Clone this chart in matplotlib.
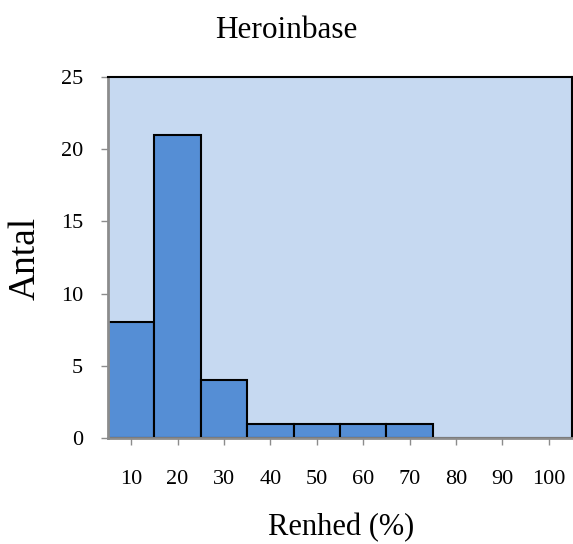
import matplotlib
matplotlib.use("Agg")
import matplotlib.pyplot as plt

categories = ["10", "20", "30", "40", "50", "60", "70", "80", "90", "100"]
counts = [8, 21, 4, 1, 1, 1, 1, 0, 0, 0]
yticks = [0, 5, 10, 15, 20, 25]

plt.rcParams["font.family"] = ["Liberation Serif", "DejaVu Serif"]

W, H = 573, 544
fig = plt.figure(figsize=(W / 100, H / 100), dpi=100)
ax = fig.add_axes([108 / W, 106 / H, 464 / W, 361 / H])
ax.set_facecolor("#C6D9F1")

x = list(range(len(categories)))
ax.bar(x, counts, width=1.0, color="#558ED5", edgecolor="black", linewidth=1.5)

ax.set_xlim(-0.5, len(categories) - 0.5)
ax.set_ylim(0, 25)
ax.set_xticks(x)
ax.set_xticklabels(categories, fontsize=16)
ax.set_yticks(yticks)
ax.set_yticklabels([str(v) for v in yticks], fontsize=16)

for side in ["left", "bottom"]:
    ax.spines[side].set_color("#8C8C8C")
    ax.spines[side].set_linewidth(2)
for side in ["top", "right"]:
    ax.spines[side].set_color("black")
    ax.spines[side].set_linewidth(1.5)

ax.tick_params(axis="both", direction="out", color="#8C8C8C", length=5, width=1)
ax.tick_params(axis="x", pad=18)
ax.tick_params(axis="y", pad=13)

# title centred on the whole chart, axis labels placed like the original
fig.text(0.5, 1 - 38 / H, "Heroinbase", fontsize=22.5, ha="center", va="baseline")
fig.text(341 / W, 1 - 535 / H, "Renhed (%)", fontsize=22, ha="center", va="baseline")
fig.text(25 / W, 1 - 258 / H, "Antal", fontsize=27, rotation=90, ha="center", va="center")

fig.savefig("out.png", dpi=100)
